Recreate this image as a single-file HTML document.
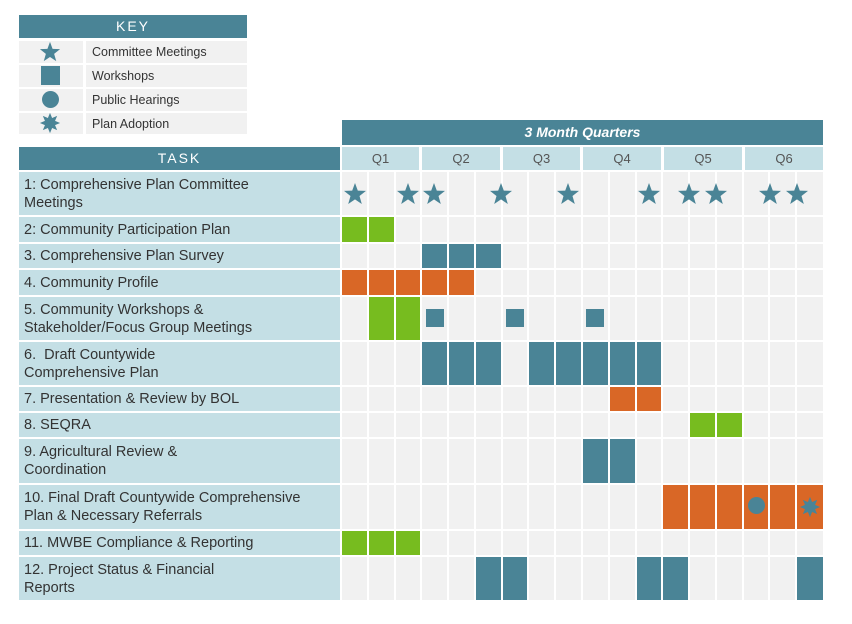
<!DOCTYPE html>
<html><head><meta charset="utf-8"><style>
body{margin:0;width:852px;height:624px;background:#fff;position:relative;overflow:hidden;font-family:"Liberation Sans",sans-serif;color:#333}
div{position:absolute;box-sizing:border-box}
.t{background:#4a8496;color:#fff;text-align:center;letter-spacing:2px;font-size:14px}
.lb{background:#c4dfe5}
.g{background:#f1f1f1}
.task{background:#c4dfe5;font-size:14.5px;line-height:18px;padding-left:5px;display:flex;align-items:center;color:#333}
.k{font-size:12.5px;display:flex;align-items:center;padding-left:6px}
</style></head><body>
<div class="t" style="left:19px;top:15px;width:228px;height:23px;line-height:23px">KEY</div>
<div class="g" style="left:19px;top:41px;width:64px;height:22px"></div><div class="g k" style="left:86px;top:41px;width:161px;height:22px">Committee Meetings</div>
<div class="g" style="left:19px;top:65px;width:64px;height:22px"></div><div class="g k" style="left:86px;top:65px;width:161px;height:22px">Workshops</div>
<div class="g" style="left:19px;top:89px;width:64px;height:22px"></div><div class="g k" style="left:86px;top:89px;width:161px;height:22px">Public Hearings</div>
<div class="g" style="left:19px;top:113px;width:64px;height:21px"></div><div class="g k" style="left:86px;top:113px;width:161px;height:21px">Plan Adoption</div>
<div style="left:41px;top:66px;width:19px;height:19px;background:#4a8496"></div>
<div style="left:42px;top:91px;width:17px;height:17px;border-radius:50%;background:#4a8496"></div>
<svg style="position:absolute;left:39px;top:41px" width="22" height="22" viewBox="0 0 24 24"><polygon fill="#4a8496" points="12,1 14.8,8.6 23,8.9 16.5,14 18.8,22 12,17.4 5.2,22 7.5,14 1,8.9 9.2,8.6"/></svg>
<svg style="position:absolute;left:39px;top:112px" width="22" height="22" viewBox="0 0 24 24"><polygon fill="#4a8496" points="12,1 14.3,6.5 19.8,4.2 17.5,9.7 23,12 17.5,14.3 19.8,19.8 14.3,17.5 12,23 9.7,17.5 4.2,19.8 6.5,14.3 1,12 6.5,9.7 4.2,4.2 9.7,6.5"/></svg>

<div class="t" style="left:342px;top:120px;width:481px;height:25px;line-height:25px;font-style:italic;font-weight:bold;letter-spacing:0;font-size:14px">3 Month Quarters</div>
<div class="t" style="left:19px;top:147px;width:321px;height:23px;line-height:23px">TASK</div>
<div class="lb" style="left:342px;top:147px;width:77px;height:23px;text-align:center;line-height:23px;font-size:13px;color:#555">Q1</div>
<div class="lb" style="left:422px;top:147px;width:78px;height:23px;text-align:center;line-height:23px;font-size:13px;color:#555">Q2</div>
<div class="lb" style="left:503px;top:147px;width:77px;height:23px;text-align:center;line-height:23px;font-size:13px;color:#555">Q3</div>
<div class="lb" style="left:583px;top:147px;width:78px;height:23px;text-align:center;line-height:23px;font-size:13px;color:#555">Q4</div>
<div class="lb" style="left:664px;top:147px;width:78px;height:23px;text-align:center;line-height:23px;font-size:13px;color:#555">Q5</div>
<div class="lb" style="left:745px;top:147px;width:78px;height:23px;text-align:center;line-height:23px;font-size:13px;color:#555">Q6</div>

<div class="task" style="left:19px;top:172px;width:321px;height:43px">1: Comprehensive Plan Committee<br>Meetings</div>
<div class="task" style="left:19px;top:217px;width:321px;height:25px">2: Community Participation Plan</div>
<div class="task" style="left:19px;top:244px;width:321px;height:24px">3. Comprehensive Plan Survey</div>
<div class="task" style="left:19px;top:270px;width:321px;height:25px">4. Community Profile</div>
<div class="task" style="left:19px;top:297px;width:321px;height:43px">5. Community Workshops &amp;<br>Stakeholder/Focus Group Meetings</div>
<div class="task" style="left:19px;top:342px;width:321px;height:43px">6.&nbsp; Draft Countywide<br>Comprehensive Plan</div>
<div class="task" style="left:19px;top:387px;width:321px;height:24px">7. Presentation &amp; Review by BOL</div>
<div class="task" style="left:19px;top:413px;width:321px;height:24px">8. SEQRA</div>
<div class="task" style="left:19px;top:439px;width:321px;height:44px">9. Agricultural Review &amp;<br>Coordination</div>
<div class="task" style="left:19px;top:485px;width:321px;height:44px">10. Final Draft Countywide Comprehensive<br>Plan &amp; Necessary Referrals</div>
<div class="task" style="left:19px;top:531px;width:321px;height:24px">11. MWBE Compliance &amp; Reporting</div>
<div class="task" style="left:19px;top:557px;width:321px;height:43px">12. Project Status &amp; Financial<br>Reports</div>
<div id="grid"></div>
<script>
var rows=[[172,43],[217,25],[244,24],[270,25],[297,43],[342,43],[387,24],[413,24],[439,44],[485,44],[531,24],[557,43]];
var G='#77bc1f',O='#d96726',B='#4a8496';
var fill={1:[[1,2,G]],2:[[4,6,B]],3:[[1,5,O]],4:[[2,3,G]],5:[[4,6,B],[8,12,B]],6:[[11,12,O]],7:[[14,15,G]],8:[[10,11,B]],9:[[13,18,O]],10:[[1,3,G]],11:[[6,7,B],[12,13,B],[18,18,B]]};
var h='';
function cx(c){return Math.round(342+(c-1)*26.78);}
rows.forEach(function(r,i){for(var c=1;c<=18;c++){var col='#f1f1f1';(fill[i]||[]).forEach(function(f){if(c>=f[0]&&c<=f[1])col=f[2];});var x=cx(c),w=(c==18?823:cx(c+1)-2)-x;h+='<div style="left:'+x+'px;top:'+r[0]+'px;width:'+w+'px;height:'+r[1]+'px;background:'+col+'"></div>';}});
[426,506,586].forEach(function(x){h+='<div style="left:'+x+'px;top:309px;width:18px;height:18px;background:'+B+'"></div>';});
[355,408,434,501,568,649,689,716,770,797].forEach(function(x){h+='<svg style="position:absolute;left:'+(x-12)+'px;top:182px" width="24" height="24" viewBox="0 0 24 24"><polygon fill="'+B+'" points="12,1 14.8,8.6 23,8.9 16.5,14 18.8,22 12,17.4 5.2,22 7.5,14 1,8.9 9.2,8.6"/></svg>';});
h+='<div style="left:748px;top:497px;width:17px;height:17px;border-radius:50%;background:'+B+'"></div>';
h+='<svg style="position:absolute;left:799px;top:496px" width="22" height="22" viewBox="0 0 24 24"><polygon fill="'+B+'" points="12,1 14.3,6.5 19.8,4.2 17.5,9.7 23,12 17.5,14.3 19.8,19.8 14.3,17.5 12,23 9.7,17.5 4.2,19.8 6.5,14.3 1,12 6.5,9.7 4.2,4.2 9.7,6.5"/></svg>';
document.getElementById('grid').outerHTML=h;
</script>
</body></html>
